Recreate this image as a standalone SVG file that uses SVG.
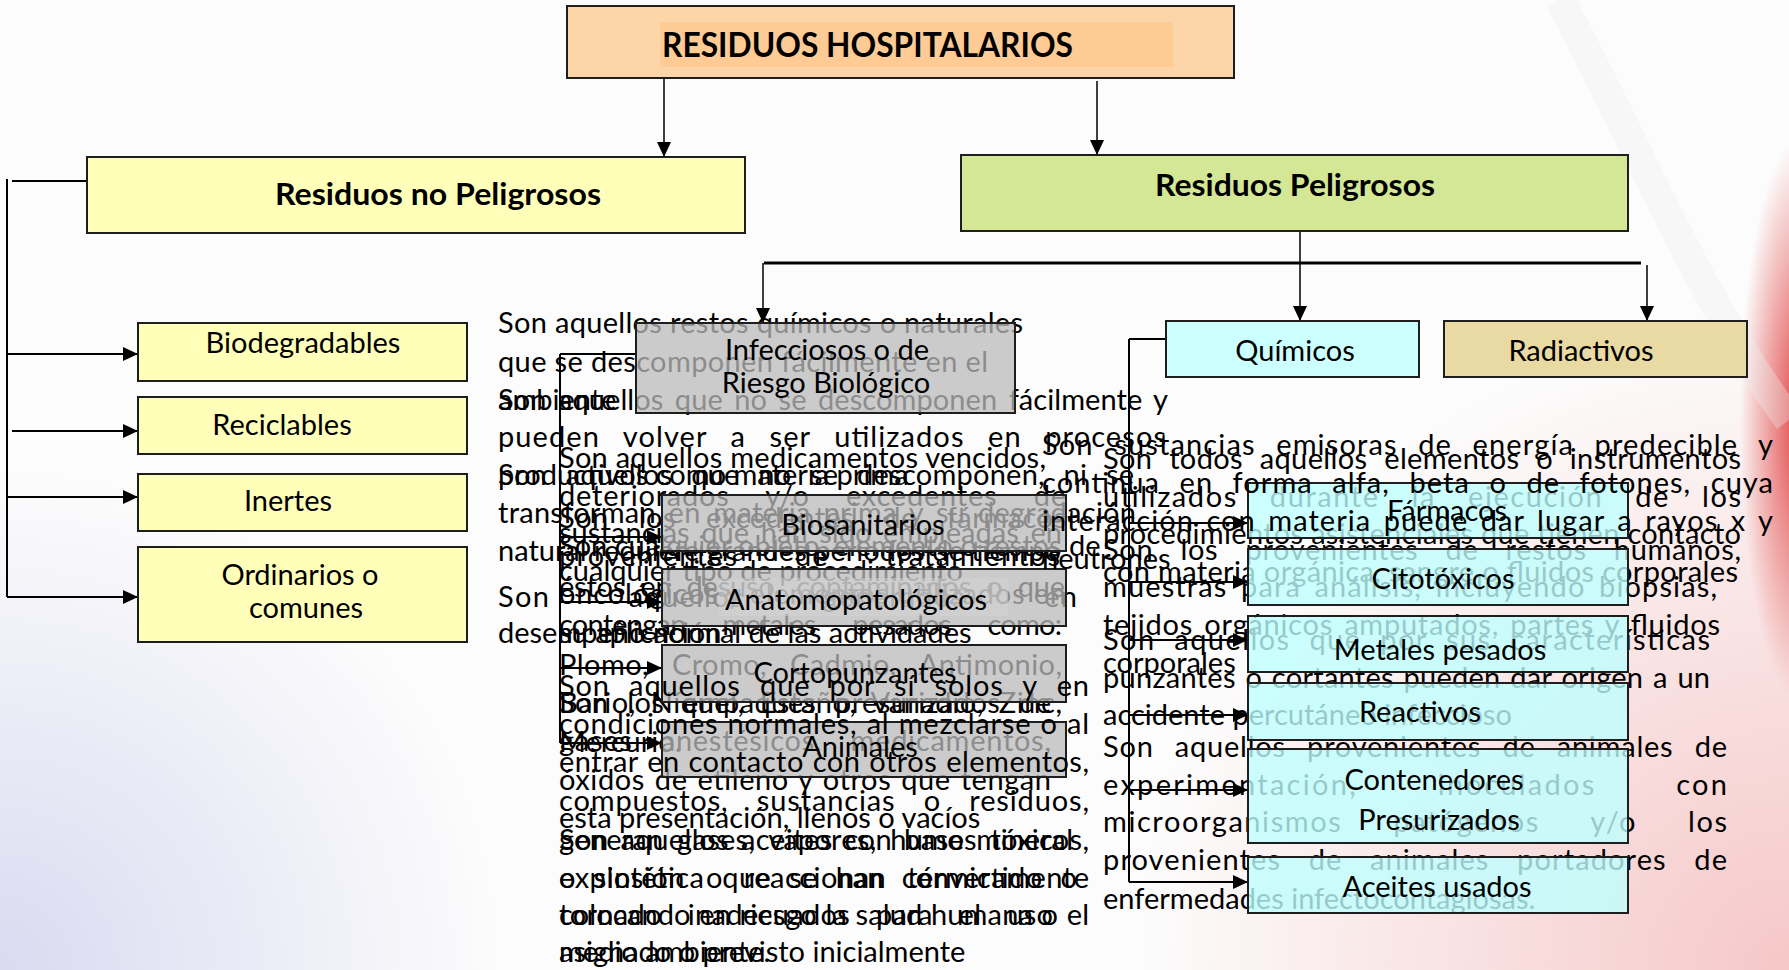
<svg xmlns="http://www.w3.org/2000/svg" width="1789" height="970" viewBox="0 0 1789 970">
<style>
.t{font-family:Lato,"Open Sans","Liberation Sans",sans-serif;font-size:29px;fill:#000}
.lb{font-family:Lato,"Open Sans","Liberation Sans",sans-serif;font-size:29px;fill:#000;text-anchor:middle}
.bd{font-family:Lato,"Open Sans","Liberation Sans",sans-serif;font-weight:bold;fill:#000}
.box{stroke:#1e1e1e;stroke-width:2}
.yel{fill:#FFFFB9}
.gry{fill:#BBBBBB;fill-opacity:0.75}
.cya{fill:#BEFFFF;fill-opacity:0.79}
.ln{stroke:#000;stroke-width:2;fill:none}
.ar{stroke:#000;stroke-width:2;fill:none;marker-end:url(#ah)}
.ar1{stroke:#000;stroke-width:1.5;fill:none;marker-end:url(#ah)}
</style>
<defs>
<marker id="ah" markerUnits="userSpaceOnUse" markerWidth="15" markerHeight="14" refX="15" refY="7" orient="auto">
<path d="M0,0 L15,7 L0,14 Z" fill="#000"/>
</marker>
<radialGradient id="gPink" cx="1789" cy="970" r="650" gradientUnits="userSpaceOnUse">
<stop offset="0" stop-color="#F5BEBE" stop-opacity="0.85"/>
<stop offset="1" stop-color="#F5BEBE" stop-opacity="0"/>
</radialGradient>
<radialGradient id="gLav" cx="0" cy="970" r="500" gradientUnits="userSpaceOnUse">
<stop offset="0" stop-color="#D6D6F0" stop-opacity="0.9"/>
<stop offset="1" stop-color="#D6D6F0" stop-opacity="0"/>
</radialGradient>
<radialGradient id="gRed" cx="1800" cy="420" r="1" gradientTransform="translate(1800 420) scale(60 280) translate(-1800 -420)" gradientUnits="userSpaceOnUse">
<stop offset="0" stop-color="#E03A3A" stop-opacity="0.95"/>
<stop offset="1" stop-color="#E03A3A" stop-opacity="0"/>
</radialGradient>
</defs>

<g id="background">
<rect width="1789" height="970" fill="#FCFCFC"/>
<rect width="1789" height="970" fill="url(#gLav)"/>
<rect width="1789" height="970" fill="url(#gPink)"/>
<ellipse cx="1800" cy="420" rx="60" ry="280" fill="url(#gRed)"/>
<path d="M1560,0 C1640,150 1700,300 1789,420" stroke="#EDEDED" stroke-width="30" fill="none" opacity="0.35"/>
</g>

<g id="connectors">
<path class="ar1" d="M664,78 V157"/>
<path class="ar1" d="M1097,81 V155"/>
<path class="ln" d="M12,181 H87"/>
<path class="ln" d="M7,179 V597"/>
<path class="ar" d="M7,354 H138"/>
<path class="ar" d="M12,431 H138"/>
<path class="ar" d="M7,497 H138"/>
<path class="ar" d="M7,597 H138"/>
<path class="ar1" d="M1300,231 V321"/>
<path d="M764,263 H1641" stroke="#000" stroke-width="3" fill="none"/>
<path class="ar1" d="M763,263 V323"/>
<path class="ar1" d="M1647,265 V321"/>
<path class="ln" d="M560,354 H636"/>
<path class="ln" d="M560,354 V743"/>
<path class="ar" d="M560,537 H662"/>
<path class="ar" d="M560,602 H662"/>
<path class="ar" d="M560,668 H662"/>
<path class="ar" d="M560,743 H662"/>
<path class="ln" d="M1129,339 H1166"/>
<path class="ln" d="M1129,339 V882"/>
<path class="ar" d="M1129,523 H1248"/>
<path class="ar" d="M1129,582 H1248"/>
<path class="ar" d="M1129,640 H1248"/>
<path class="ar" d="M1129,715 H1248"/>
<path class="ar" d="M1129,790 H1248"/>
<path class="ar" d="M1129,882 H1248"/>
</g>

<g id="desc-biodegradables">
<text class="t" x="498" y="333" textLength="525" lengthAdjust="spacing">Son aquellos restos químicos o naturales</text>
<text class="t" x="498" y="372" textLength="490" lengthAdjust="spacing">que se descomponen fácilmente en el</text>
<text class="t" x="498" y="410">ambiente</text>
</g>
<g id="desc-reciclables">
<text class="t" x="498" y="410" textLength="670" lengthAdjust="spacing" style="word-spacing:4px">Son aquellos que no se descomponen fácilmente y</text>
<text class="t" x="498" y="447" textLength="668" lengthAdjust="spacing" style="word-spacing:15px">pueden volver a ser utilizados en procesos</text>
<text class="t" x="498" y="485">productivos como materia prima</text>
</g>
<g id="desc-inertes">
<text class="t" x="498" y="485" textLength="636" lengthAdjust="spacing" style="word-spacing:11px">Son aquellos que no se descomponen, ni se</text>
<text class="t" x="498" y="523" textLength="638" lengthAdjust="spacing" style="word-spacing:5px">transforman en materia prima y su degradación</text>
<text class="t" x="498" y="561">natural requiere grandes periodos de tiempo</text>
</g>
<g id="desc-ordinarios">
<text class="t" x="498" y="607" textLength="579" lengthAdjust="spacing" style="word-spacing:70px">Son aquellos generados en</text>
<text class="t" x="498" y="643">desempeño normal de las actividades</text>
</g>
<g id="desc-farmacos">
<text class="t" x="559" y="468" textLength="487" lengthAdjust="spacing">Son aquellos medicamentos vencidos,</text>
<text class="t" x="559" y="506" textLength="507" lengthAdjust="spacing" style="word-spacing:28px">deteriorados y/o excedentes de</text>
<text class="t" x="559" y="543" textLength="503" lengthAdjust="spacing" style="word-spacing:4px">sustancias que han sido empleadas en</text>
<text class="t" x="559" y="581">cualquier tipo de procedimiento</text>
</g>
<g id="desc-citotoxicos">
<text class="t" x="559" y="528" textLength="507" lengthAdjust="spacing" style="word-spacing:22px">Son los excedentes de fármacos</text>
<text class="t" x="559" y="566" textLength="501" lengthAdjust="spacing" style="word-spacing:48px">provenientes de tratamientos</text>
<text class="t" x="559" y="604" textLength="507" lengthAdjust="spacing">oncológicos y elementos utilizados en</text>
<text class="t" x="559" y="643">su aplicación</text>
</g>
<g id="desc-metales">
<text class="t" x="559" y="556">Son cualquier objeto, elemento o restos de</text>
<text class="t" x="559" y="597" textLength="506" lengthAdjust="spacing" style="word-spacing:8px">éstos en desuso, contaminados o que</text>
<text class="t" x="559" y="635" textLength="503" lengthAdjust="spacing" style="word-spacing:30px">contengan metales pesados como:</text>
<text class="t" x="559" y="675" textLength="503" lengthAdjust="spacing" style="word-spacing:15px">Plomo, Cromo, Cadmio, Antimonio,</text>
<text class="t" x="559" y="713" textLength="503" lengthAdjust="spacing" style="word-spacing:7px">Bario, Níquel, Estaño, Vanadio, Zinc,</text>
<text class="t" x="559" y="752">Mercurio.</text>
</g>
<g id="desc-contenedores">
<text class="t" x="559" y="713" textLength="492" lengthAdjust="spacing" style="word-spacing:11px">Son los empaques presurizados de</text>
<text class="t" x="559" y="751" textLength="492" lengthAdjust="spacing" style="word-spacing:20px">gases anestésicos, medicamentos,</text>
<text class="t" x="559" y="790" textLength="492" lengthAdjust="spacing" style="word-spacing:2px">óxidos de etileno y otros que tengan</text>
<text class="t" x="559" y="828">esta presentación, llenos o vacíos</text>
</g>
<g id="desc-aceites">
<text class="t" x="559" y="850" textLength="514" lengthAdjust="spacing" style="word-spacing:4px">Son aquellos aceites con base mineral</text>
<text class="t" x="559" y="888" textLength="518" lengthAdjust="spacing" style="word-spacing:10px">o sintética que se han convertido o</text>
<text class="t" x="559" y="925" textLength="494" lengthAdjust="spacing" style="word-spacing:18px">tornado inadecuados para el uso</text>
<text class="t" x="559" y="962">asignado o previsto inicialmente</text>
</g>
<g id="desc-biosanitarios">
<text class="t" x="1103" y="469" textLength="638" lengthAdjust="spacing" style="word-spacing:9px">Son todos aquellos elementos o instrumentos</text>
<text class="t" x="1103" y="507" textLength="638" lengthAdjust="spacing" style="word-spacing:23px">utilizados durante la ejecución de los</text>
<text class="t" x="1103" y="544" textLength="638" lengthAdjust="spacing">procedimientos asistenciales que tienen contacto</text>
<text class="t" x="1103" y="582" textLength="635" lengthAdjust="spacing">con materia orgánica, sangre o fluidos corporales</text>
</g>
<g id="desc-anatomopatologicos">
<text class="t" x="1103" y="560" textLength="638" lengthAdjust="spacing" style="word-spacing:19px">Son los provenientes de restos humanos,</text>
<text class="t" x="1103" y="597" textLength="614" lengthAdjust="spacing" style="word-spacing:5px">muestras para análisis, incluyendo biopsias,</text>
<text class="t" x="1103" y="635" textLength="617" lengthAdjust="spacing" style="word-spacing:3px">tejidos orgánicos amputados, partes y fluidos</text>
<text class="t" x="1103" y="673">corporales</text>
</g>
<g id="desc-cortopunzantes">
<text class="t" x="1103" y="650" textLength="607" lengthAdjust="spacing" style="word-spacing:10px">Son aquellos que por sus características</text>
<text class="t" x="1103" y="688" textLength="607" lengthAdjust="spacing" style="word-spacing:2px">punzantes o cortantes pueden dar origen a un</text>
<text class="t" x="1103" y="725">accidente percutáneo infeccioso</text>
</g>
<g id="desc-animales">
<text class="t" x="1103" y="757" textLength="624" lengthAdjust="spacing" style="word-spacing:13px">Son aquellos provenientes de animales de</text>
<text class="t" x="1103" y="795" textLength="624" lengthAdjust="spacing" style="word-spacing:70px">experimentación, inoculados con</text>
<text class="t" x="1103" y="832" textLength="624" lengthAdjust="spacing" style="word-spacing:42px">microorganismos patógenos y/o los</text>
<text class="t" x="1103" y="870" textLength="624" lengthAdjust="spacing" style="word-spacing:19px">provenientes de animales portadores de</text>
<text class="t" x="1103" y="909">enfermedades infectocontagiosas.</text>
</g>

<g id="n-hospitalarios">
<rect class="box" x="567" y="6" width="667" height="72" fill="#FCD6A9"/>
<rect x="660" y="22" width="513" height="45" fill="#FFCB94"/>
<text class="bd" x="662" y="57" font-size="34" textLength="411" lengthAdjust="spacingAndGlyphs">RESIDUOS HOSPITALARIOS</text>
</g>
<g id="n-no-peligrosos">
<rect class="box yel" x="87" y="157" width="658" height="76"/>
<text class="bd" x="438" y="205" font-size="31" text-anchor="middle" textLength="326" lengthAdjust="spacingAndGlyphs">Residuos no Peligrosos</text>
</g>
<g id="n-peligrosos">
<rect class="box" x="961" y="155" width="667" height="76" fill="#D3E794"/>
<text class="bd" x="1295" y="196" font-size="31" text-anchor="middle" textLength="280" lengthAdjust="spacingAndGlyphs">Residuos Peligrosos</text>
</g>
<g id="n-biodegradables">
<rect class="box yel" x="138" y="323" width="329" height="58"/>
<text class="lb" x="303" y="353">Biodegradables</text>
</g>
<g id="n-reciclables">
<rect class="box yel" x="138" y="397" width="329" height="57"/>
<text class="lb" x="282" y="435">Reciclables</text>
</g>
<g id="n-inertes">
<rect class="box yel" x="138" y="474" width="329" height="57"/>
<text class="lb" x="288" y="511">Inertes</text>
</g>
<g id="n-ordinarios">
<rect class="box yel" x="138" y="547" width="329" height="95"/>
<text class="lb" x="300" y="585">Ordinarios o</text>
<text class="lb" x="306" y="618">comunes</text>
</g>
<g id="n-infecciosos">
<rect class="box gry" x="636" y="323" width="379" height="90"/>
<text class="lb" x="827" y="360">Infecciosos o de</text>
<text class="lb" x="826" y="393">Riesgo Biológico</text>
</g>
<g id="n-biosanitarios">
<rect class="box gry" x="662" y="495" width="404" height="56"/>
<text class="lb" x="863" y="535">Biosanitarios</text>
</g>
<g id="n-anatomopatologicos">
<rect class="box gry" x="662" y="569" width="404" height="57"/>
<rect x="719" y="578" width="289" height="38" fill="#D4D4D4" fill-opacity="0.5"/>
<text class="lb" x="856" y="610">Anatomopatológicos</text>
</g>
<g id="n-cortopunzantes">
<rect class="box gry" x="662" y="645" width="404" height="57"/>
<text class="lb" x="855" y="683">Cortopunzantes</text>
</g>
<g id="n-animales">
<rect class="box gry" x="662" y="722" width="404" height="55"/>
<text class="lb" x="860" y="757">Animales</text>
</g>
<g id="n-quimicos">
<rect class="box" x="1166" y="321" width="253" height="56" fill="#CCFFFF"/>
<text class="lb" x="1295" y="361">Químicos</text>
</g>
<g id="n-radiactivos">
<rect class="box" x="1444" y="321" width="303" height="56" fill="#E9D9A3"/>
<text class="lb" x="1581" y="361">Radiactivos</text>
</g>
<g id="n-farmacos">
<rect class="box cya" x="1248" y="483" width="380" height="55"/>
<text class="lb" x="1447" y="521">Fármacos</text>
</g>
<g id="n-citotoxicos">
<rect class="box cya" x="1248" y="549" width="380" height="56"/>
<text class="lb" x="1443" y="589">Citotóxicos</text>
</g>
<g id="n-metales">
<rect class="box cya" x="1248" y="616" width="380" height="56"/>
<text class="lb" x="1440" y="660">Metales pesados</text>
</g>
<g id="n-reactivos">
<rect class="box cya" x="1248" y="683" width="380" height="57"/>
<text class="lb" x="1420" y="722">Reactivos</text>
</g>
<g id="n-contenedores">
<rect class="box cya" x="1248" y="749" width="380" height="94"/>
<text class="lb" x="1434" y="790">Contenedores</text>
<text class="lb" x="1439" y="830">Presurizados</text>
</g>
<g id="n-aceites">
<rect class="box cya" x="1248" y="857" width="380" height="56"/>
<text class="lb" x="1437" y="897">Aceites usados</text>
</g>

<g id="desc-reactivos">
<text class="t" x="559" y="696" textLength="530" lengthAdjust="spacing" style="word-spacing:11px">Son aquellos que por sí solos y en</text>
<text class="t" x="559" y="734" textLength="530" lengthAdjust="spacing" style="word-spacing:1px">condiciones normales, al mezclarse o al</text>
<text class="t" x="559" y="772" textLength="530" lengthAdjust="spacing" style="word-spacing:1px">entrar en contacto con otros elementos,</text>
<text class="t" x="559" y="811" textLength="530" lengthAdjust="spacing" style="word-spacing:20px">compuestos, sustancias o residuos,</text>
<text class="t" x="559" y="850" textLength="530" lengthAdjust="spacing" style="word-spacing:6px">generan gases, vapores, humos tóxicos,</text>
<text class="t" x="559" y="888" textLength="530" lengthAdjust="spacing" style="word-spacing:13px">explosión o reaccionan térmicamente</text>
<text class="t" x="559" y="925" textLength="530" lengthAdjust="spacing" style="word-spacing:1px">colocando en riesgo la salud humana o el</text>
<text class="t" x="559" y="962">medio ambiente.</text>
</g>
<g id="desc-radiactivos">
<text class="t" x="1042" y="455" textLength="731" lengthAdjust="spacing" style="word-spacing:12px">Son sustancias emisoras de energía predecible y</text>
<text class="t" x="1042" y="493" textLength="731" lengthAdjust="spacing" style="word-spacing:11px">continua en forma alfa, beta o de fotones, cuya</text>
<text class="t" x="1042" y="531" textLength="731" lengthAdjust="spacing" style="word-spacing:4px">interacción con materia puede dar lugar a rayos x y</text>
<text class="t" x="1042" y="569">neutrones</text>
</g>
</svg>
